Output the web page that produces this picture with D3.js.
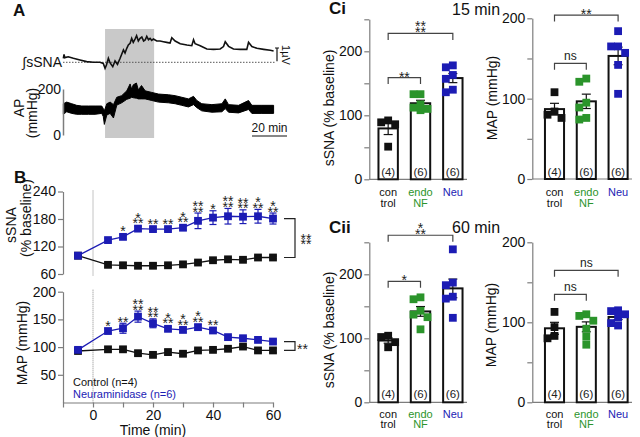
<!DOCTYPE html>
<html><head><meta charset="utf-8">
<script src="https://cdn.jsdelivr.net/npm/d3@7"></script>
<style>
body{margin:0;background:#fff;}
text{font-family:"Liberation Sans",Arial,Helvetica,sans-serif;}
</style></head><body>
<svg id="c" width="640" height="437"></svg>
<script>
// ================= DATA =================
// Panel A: integrated sSNA trace [time (min), µV above baseline]
const snaTrace = [[0.2,0.30],[0.6,0.60],[1.0,0.35],[3.0,0.42],[5.9,0.30],[9.7,0.17],[13.5,0.05],[17.3,0.0],[21.1,0.0],[23.0,-0.08],[24.0,-0.45],[24.8,-0.2],[25.9,0.30],[26.9,-0.05],[28.4,-0.33],[29.7,0.10],[31.1,-0.15],[32.6,0.3],[33.5,0.6],[34.5,0.93],[35.4,0.7],[36.4,1.05],[37.3,1.3],[38.3,1.43],[39.2,1.80],[40.1,1.5],[41.1,1.75],[42.0,2.0],[43.0,1.6],[44.0,1.80],[45.0,1.9],[46.0,1.6],[46.9,1.68],[47.8,1.95],[48.8,1.7],[49.7,1.80],[50.6,1.65],[51.6,1.75],[53.5,1.60],[55.4,1.60],[57.3,1.55],[59.2,1.50],[61.1,1.45],[62.1,1.85],[64.0,1.60],[66.9,1.40],[70.7,1.30],[73.5,1.25],[74.5,1.70],[75.4,1.40],[78.3,1.25],[82.1,1.0],[85.9,0.97],[89.7,1.0],[91.6,1.18],[92.6,1.55],[94.5,1.20],[97.3,1.0],[101.1,0.97],[104.9,0.97],[105.9,1.50],[107.8,1.18],[110.7,1.05],[114.5,0.97],[118.3,0.90],[120.2,0.85]];
// Panel A: arterial pressure band [time (min), lower mmHg, upper mmHg]
const apTrace = [[0.2,90,136],[2.1,101,143],[5.0,94,136],[7.8,90,129],[10.7,90,126],[14.5,90,126],[18.3,90,126],[22.1,94,126],[23.0,80,115],[23.6,46,105],[25.0,87,136],[26.9,94,143],[28.8,74,132],[30.7,130,164],[33.5,140,171],[36.4,155,192],[38.3,160,222],[39.2,164,199],[40.1,162,218],[41.9,160,226],[43.0,157,196],[44.8,157,215],[46.9,157,192],[50.7,150,185],[54.5,143,178],[60.2,140,175],[64.0,136,171],[67.8,129,164],[71.6,122,157],[74.5,132,168],[76.4,119,150],[79.2,105,136],[85.0,99,132],[90.7,101,136],[92.6,115,157],[94.5,99,132],[100.2,96,129],[105.9,111,150],[107.8,94,129],[113.5,94,129],[120.2,94,129]];
const shadeMin = [24, 52];
const apTicks = [0, 200];

// Panel B: time course
const timeB = [-5,5,10,15,20,25,30,35,40,45,50,55,60];
const sSNANeu = [100,134,141,159,158,158,161,176,183,186,185,186,181];
const sSNANeuSem = [0,4,5,5,4,4,5,17,15,17,15,15,12];
const sSNACtl = [100,80,79,78,78,79,81,85,90,92,91,96,96];
const sSNACtlSem = [0,5,6,5,5,3,3,3,3,4,3,3,3];
const mapNeu = [95,129,134,155,143,133,131,136,130,118,116,113,110];
const mapNeuSem = [3,4,9,10,8,4,4,5,4,3,3,3,3];
const mapCtl = [93,96,96,89,86,91,88,94,95,97,101,94,94];
const mapCtlSem = [3,4,4,4,3,5,4,3,3,3,3,4,4];
const sSNAStars = ["","","*","*|**","**","**","*|**","**|**","*","**|**","**|**","*|**","*|**"];
const mapStars = ["","*","**","**|**","**|**","*|**","*|**","*|**","**","","","",""];
const sSNATicksB = [60,120,180,240];
const mapTicksB = [50,100,150,200];
const timeTicksB = [-10,0,10,20,30,40,50,60];
const timeLabelsB = [0,20,40,60];
const legendB = ["Control (n=4)","Neuraminidase (n=6)"];

// Panel C: group values
const groups = ["control","endo NF","Neu"];
const groupLabels = [["con","trol"],["endo","NF"],["Neu"]];
const ciSNA = [[89,92,86,51],[133,133,117,112,110,108],[175,178,163,157,140,136]];
const ciMAP = [[108,84,80,76],[121,125,95,89,74,76],[184,165,165,157,142,106]];
const ciiSNA = [[104,102,94,86],[161,164,133,137,114,143],[239,183,187,165,162,132]];
const ciiMAP = [[113,94,80,83],[110,108,102,92,82,72],[115,114,110,106,99,96]];
// brackets: [group i, group j, label, level (data units)]
const ciSNABr = [[0,1,"**",159],[0,2,"**|**",228]];
const ciMAPBr = [[0,1,"ns",144],[0,2,"**",204]];
const ciiSNABr = [[0,1,"*",189],[0,2,"*|**",261]];
const ciiMAPBr = [[0,1,"ns",135],[0,2,"ns",165]];
const sSNATicksC = [0,50,100,150,200,250];
const mapTicksC = [0,50,100,150,200];
const labeledC = [0,100,200];

// ================= DRAW =================
const svg = d3.select("#c");
const AX = "#7d7d7d";
const BLUE = "#1c1cb4", GREEN = "#2b942b", BLACK = "#111";
const gColors = [BLACK, GREEN, BLUE];

function text(x, y, s, o = {}) {
  const t = svg.append("text").attr("x", x).attr("y", y).text(String(s))
    .attr("font-size", o.size || 14).attr("fill", o.fill || "#111")
    .attr("text-anchor", o.anchor || "start");
  if (o.weight) t.attr("font-weight", o.weight);
  if (o.rot) t.attr("transform", `rotate(${o.rot},${x},${y})`).attr("dominant-baseline", "central");
  return t;
}
function stars(x, yBottomCenter, str, gap) {
  if (!str) return;
  const rows = str.split("|");
  const n = rows.length;
  gap = gap || 5.5;
  const t = svg.append("text").attr("font-size", 14).attr("text-anchor", "middle").attr("fill", "#222");
  rows.forEach((r, i) => {
    const c = yBottomCenter - (n - 1 - i) * gap;
    t.append("tspan").attr("x", x).attr("y", c + 8).text(r);
  });
}
function leftAxis(x, scale, ticks, labels) {
  const g = svg.append("g").attr("transform", `translate(${x},0)`)
    .call(d3.axisLeft(scale).tickValues(ticks).tickSize(5).tickSizeOuter(0).tickPadding(2)
      .tickFormat(v => labels.indexOf(v) >= 0 ? String(v) : ""));
  g.attr("font-size", 14).attr("font-family", null);
  g.select(".domain").attr("stroke", AX).attr("stroke-width", 1.2);
  g.selectAll(".tick line").attr("stroke", AX).attr("stroke-width", 1.2);
  g.selectAll(".tick text").attr("fill", "#111").attr("font-size", 14);
  return g;
}

// ---------- Panel A ----------
text(13, 16, "A", {size: 17, weight: "bold"});
const xA = d3.scaleLinear().domain([0, 121]).range([63, 275]);
const ySna = d3.scaleLinear().domain([0, 1]).range([62.3, 49]);
const yAP = d3.scaleLinear().domain([0, 200]).range([135, 89]);
svg.append("rect").attr("x", xA(shadeMin[0])).attr("y", 29)
  .attr("width", xA(shadeMin[1]) - xA(shadeMin[0])).attr("height", 109).attr("fill", "#c9c9c9");
svg.append("line").attr("x1", xA(0)).attr("x2", xA(121)).attr("y1", ySna(0)).attr("y2", ySna(0))
  .attr("stroke", "#555").attr("stroke-dasharray", "1.5,1.5");
svg.append("path").datum(snaTrace)
  .attr("d", d3.line().x(d => xA(d[0])).y(d => ySna(d[1])))
  .attr("fill", "none").attr("stroke", "#111").attr("stroke-width", 1.6);
svg.append("path").datum(apTrace)
  .attr("d", d3.area().x(d => xA(d[0])).y0(d => yAP(d[1])).y1(d => yAP(d[2])))
  .attr("fill", "#000").attr("stroke", "#000").attr("stroke-width", 1);
text(62, 67, "\u222BsSNA", {anchor: "end"});
// 1 µV scale bar
const sbX = xA(121) + 2;
svg.append("line").attr("x1", sbX).attr("x2", sbX).attr("y1", ySna(0) - 1).attr("y2", ySna(1) - 1)
  .attr("stroke", "#111").attr("stroke-width", 1.2);
svg.append("line").attr("x1", sbX - 2).attr("x2", sbX + 2).attr("y1", ySna(1) - 1).attr("y2", ySna(1) - 1)
  .attr("stroke", "#111");
text(286, 55, "1\u00B5V", {size: 11, anchor: "middle", rot: 90});
// AP axis (labels only, no tick marks)
const apAx = svg.append("g").attr("transform", "translate(63,0)")
  .call(d3.axisLeft(yAP).tickValues(apTicks).tickSize(0).tickSizeOuter(0).tickPadding(2));
apAx.attr("font-size", 14).attr("font-family", null);
apAx.select(".domain").attr("stroke", AX).attr("stroke-width", 1.5);
apAx.selectAll(".tick text").attr("fill", "#111").attr("font-size", 14);
text(19, 108, "AP", {anchor: "middle", rot: -90});
text(32, 113, "(mmHg)", {anchor: "middle", rot: -90});
// 20 min bar
svg.append("line").attr("x1", 287 - (xA(20) - xA(0))).attr("x2", 287).attr("y1", 136).attr("y2", 136)
  .attr("stroke", "#111").attr("stroke-width", 1.2);
text(269.5, 132, "20 min", {size: 12, anchor: "middle"});

// ---------- Panel B ----------
text(14, 183, "B", {size: 17, weight: "bold"});
const xB = d3.scaleLinear().domain([-10, 60]).range([63, 273]);
const ySB = d3.scaleLinear().domain([60, 240]).range([274, 191.5]);
const yMB = d3.scaleLinear().domain([0, 200]).range([402.5, 291.7]);

leftAxis(63, ySB, sSNATicksB, sSNATicksB);
leftAxis(63, yMB, mapTicksB, mapTicksB);
const xAx = svg.append("g").attr("transform", `translate(0,${yMB(0)})`)
  .call(d3.axisBottom(xB).tickValues(timeTicksB).tickSize(5).tickSizeOuter(0).tickPadding(3)
    .tickFormat(t => timeLabelsB.indexOf(t) >= 0 ? String(t) : ""));
xAx.attr("font-size", 14).attr("font-family", null);
xAx.select(".domain").attr("stroke", AX).attr("stroke-width", 1.2);
xAx.selectAll(".tick line").attr("stroke", AX).attr("stroke-width", 1.2);
xAx.selectAll(".tick text").attr("fill", "#111").attr("font-size", 14);
text(153, 435, "Time (min)", {anchor: "middle"});
// dotted t=0 lines
[[ySB(240) - 1, ySB(60) + 2], [yMB(200) - 2, yMB(0)]].forEach(([a, b]) =>
  svg.append("line").attr("x1", xB(0)).attr("x2", xB(0)).attr("y1", a).attr("y2", b)
    .attr("stroke", "#888").attr("stroke-dasharray", "1,1"));
text(11, 225, "sSNA", {anchor: "middle", rot: -90});
text(26, 218, "(% baseline)", {anchor: "middle", rot: -90});
text(22, 343, "MAP (mmHg)", {anchor: "middle", rot: -90});

function series(yS, vals, sems, color, starArr) {
  const pts = timeB.map((t, i) => ({t, v: vals[i], s: sems[i], st: starArr ? starArr[i] : ""}));
  svg.append("path").datum(pts).attr("d", d3.line().x(d => xB(d.t)).y(d => yS(d.v)))
    .attr("fill", "none").attr("stroke", color).attr("stroke-width", 1.3);
  pts.forEach(d => {
    if (d.s > 0) {
      const x = xB(d.t);
      [d.v + d.s, d.v - d.s].forEach(e => {
        svg.append("line").attr("x1", x).attr("x2", x).attr("y1", yS(d.v)).attr("y2", yS(e)).attr("stroke", color).attr("stroke-width", 1.2);
        svg.append("line").attr("x1", x - 3.5).attr("x2", x + 3.5).attr("y1", yS(e)).attr("y2", yS(e)).attr("stroke", color).attr("stroke-width", 1.2);
      });
    }
  });
  svg.selectAll(null).data(pts).enter().append("rect")
    .attr("x", d => xB(d.t) - 3.9).attr("y", d => yS(d.v) - 3.9).attr("width", 7.8).attr("height", 7.8).attr("fill", color);
  pts.forEach(d => {
    const top = Math.min(yS(d.v) - 3.9, yS(d.v + d.s));
    stars(xB(d.t), top - 4.5, d.st);
  });
}
series(ySB, sSNACtl, sSNACtlSem, BLACK, null);
series(ySB, sSNANeu, sSNANeuSem, BLUE, sSNAStars);
series(yMB, mapCtl, mapCtlSem, BLACK, null);
series(yMB, mapNeu, mapNeuSem, BLUE, mapStars);

function sideBracket(yS, a, b, label, lx, twoRow) {
  const y1 = yS(a), y2 = yS(b), x = 295;
  svg.append("path").attr("d", `M284,${y1}H${x}V${y2}H284`).attr("fill", "none").attr("stroke", "#222").attr("stroke-width", 1.2);
  if (twoRow) stars(lx, (y1 + y2) / 2 + 3, label);
  else text(lx, (y1 + y2) / 2 + 8, label, {size: 14, fill: "#222"});
}
sideBracket(ySB, sSNANeu[12], sSNACtl[12], "**|**", 306, true);
sideBracket(yMB, mapNeu[12], mapCtl[12], "**", 297, false);

text(73, 386, legendB[0], {size: 11});
text(73, 398, legendB[1], {size: 11, fill: BLUE});

// ---------- Panel C ----------
text(329, 14, "Ci", {size: 17, weight: "bold"});
text(452, 15, "15 min", {size: 16});
text(329, 233, "Cii", {size: 17, weight: "bold"});
text(452, 233, "60 min", {size: 16});

function barPanel(cfg) {
  const {axX, x0, x1, yDom, yRange, ticks, data, brackets, title, titleX, titleY, catY, nY} = cfg;
  const y = d3.scaleLinear().domain(yDom).range(yRange);
  const xb = d3.scaleBand().domain(groups).range([x0, x1]).paddingInner(0.4).paddingOuter(0.2);
  leftAxis(axX, y, ticks, labeledC);
  svg.append("line").attr("x1", axX).attr("x2", x1 - 2).attr("y1", y(0)).attr("y2", y(0)).attr("stroke", AX).attr("stroke-width", 1.2);
  text(titleX, titleY, title, {anchor: "middle", rot: -90});
  data.forEach((vals, gi) => {
    const g = groups[gi];
    const cx = xb(g) + xb.bandwidth() / 2;
    const m = d3.mean(vals), sem = d3.deviation(vals) / Math.sqrt(vals.length);
    svg.append("rect").attr("x", xb(g)).attr("y", y(m)).attr("width", xb.bandwidth()).attr("height", y(0) - y(m))
      .attr("fill", "#fff").attr("stroke", "#111").attr("stroke-width", 2);
    svg.append("line").attr("x1", cx).attr("x2", cx).attr("y1", y(m - sem)).attr("y2", y(m + sem)).attr("stroke", "#111").attr("stroke-width", 1.2);
    [m - sem, m + sem].forEach(e => svg.append("line").attr("x1", cx - 4.5).attr("x2", cx + 4.5).attr("y1", y(e)).attr("y2", y(e)).attr("stroke", "#111").attr("stroke-width", 1.2));
    const placed = [];
    const sorted = vals.slice().sort((a, b) => b - a);
    sorted.forEach(v => {
      const py = y(v);
      const cands = [0, -7, 7, -13, 13];
      let off = cands.find(o => placed.every(p => Math.abs(p.x - o) >= 7 || Math.abs(p.y - py) >= 7.5));
      if (off === undefined) off = 0;
      placed.push({x: off, y: py});
    });
    svg.selectAll(null).data(placed).enter().append("rect")
      .attr("x", d => cx + d.x - 3.9).attr("y", d => d.y - 3.9).attr("width", 7.8).attr("height", 7.8).attr("fill", gColors[gi]);
    text(cx, nY, `(${vals.length})`, {size: 11.5, anchor: "middle", fill: "#222"});
    groupLabels[gi].forEach((l, li) => text(cx, catY + li * 10.5, l, {size: 11, anchor: "middle", fill: gColors[gi]}));
  });
  brackets.forEach(([i, j, lab, lvl]) => {
    const xi = xb(groups[i]) + xb.bandwidth() / 2, xj = xb(groups[j]) + xb.bandwidth() / 2;
    const yl = y(lvl);
    svg.append("path").attr("d", `M${xi},${yl + 6.5}V${yl}H${xj}V${yl + 6.5}`).attr("fill", "none").attr("stroke", "#444").attr("stroke-width", 1.2);
    const mx = (xi + xj) / 2;
    if (lab === "ns") text(mx, yl - 3, "ns", {size: 12, anchor: "middle", fill: "#222"});
    else stars(mx, yl - 4, lab, 6);
  });
}
barPanel({axX: 369.3, x0: 372, x1: 469, yDom: [0, 250], yRange: [179.3, 19.3], ticks: sSNATicksC, data: ciSNA, brackets: ciSNABr,
  title: "sSNA (% baseline)", titleX: 329, titleY: 108, catY: 196, nY: 176});
barPanel({axX: 532.3, x0: 538.6, x1: 634, yDom: [0, 200], yRange: [179, 18.3], ticks: mapTicksC, data: ciMAP, brackets: ciMAPBr,
  title: "MAP (mmHg)", titleX: 492, titleY: 98, catY: 196, nY: 176});
barPanel({axX: 369.3, x0: 372, x1: 469, yDom: [0, 250], yRange: [402.3, 242.3], ticks: sSNATicksC, data: ciiSNA, brackets: ciiSNABr,
  title: "sSNA (% baseline)", titleX: 329, titleY: 330, catY: 417.5, nY: 398});
barPanel({axX: 532.3, x0: 538.6, x1: 634, yDom: [0, 200], yRange: [402.3, 242.3], ticks: mapTicksC, data: ciiMAP, brackets: ciiMAPBr,
  title: "MAP (mmHg)", titleX: 491, titleY: 325, catY: 417.5, nY: 398});
</script>
</body></html>
